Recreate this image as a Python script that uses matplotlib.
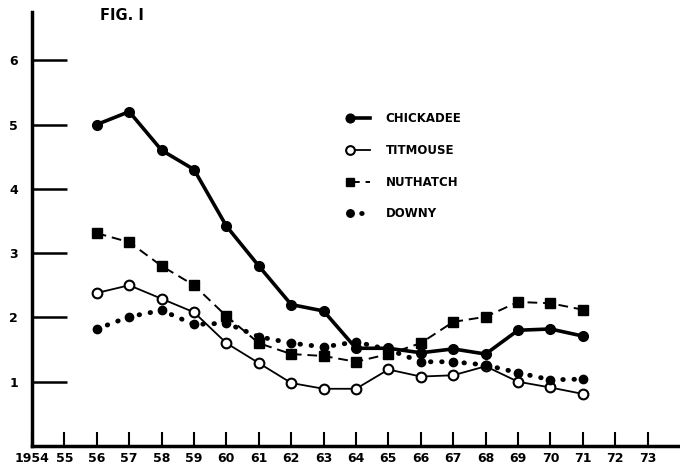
import matplotlib
matplotlib.use("Agg")
import matplotlib.pyplot as plt
from matplotlib.legend_handler import HandlerLine2D

years = list(range(1956, 1972))
chickadee = [5.0, 5.2, 4.6, 4.3, 3.42, 2.8, 2.2, 2.1, 1.52, 1.52, 1.45, 1.51, 1.43, 1.80, 1.82, 1.71]
titmouse = [2.38, 2.50, 2.29, 2.08, 1.60, 1.29, 0.98, 0.89, 0.89, 1.19, 1.08, 1.10, 1.24, 1.00, 0.91, 0.81]
nuthatch = [3.31, 3.17, 2.80, 2.50, 2.02, 1.60, 1.43, 1.40, 1.31, 1.43, 1.60, 1.93, 2.01, 2.24, 2.22, 2.12]
downy = [1.82, 2.01, 2.11, 1.89, 1.91, 1.70, 1.60, 1.54, 1.62, 1.50, 1.31, 1.31, 1.26, 1.14, 1.03, 1.04]

xticks = list(range(1954, 1974))
xlabels = ["1954"] + [str(y % 100) for y in xticks[1:]]
yticks = [1, 2, 3, 4, 5, 6]

plt.rcParams['font.family'] = ['DejaVu Sans']
fig = plt.figure(figsize=(6.8, 4.7), dpi=100)
ax = fig.add_axes([32/680, 24/470, 648/680, 434/470])

ax.plot(years, chickadee, color='black', lw=2.6, marker='o', ms=7, label='CHICKADEE')
ax.plot(years, titmouse, color='black', lw=1.3, marker='o', ms=7, mfc='white', mew=1.5, label='TITMOUSE')
ax.plot(years, nuthatch, color='black', lw=1.4, ls=(0, (5, 3)), marker='s', ms=7, label='NUTHATCH')
ax.plot(years, downy, color='black', lw=3.5, ls=(0, (0.1, 2.2)), dash_capstyle='round',
        marker='o', ms=6, label='DOWNY')

ax.set_xlim(1954, 1974)
ax.set_ylim(0, 6.75)
for s in ['top', 'right']:
    ax.spines[s].set_visible(False)
for s in ['left', 'bottom']:
    ax.spines[s].set_linewidth(2.5)

ax.set_xticks(xticks)
ax.set_xticklabels(xlabels, fontsize=9, fontweight='bold')
ax.tick_params(axis='x', direction='in', length=10, width=1.5, pad=4)
ax.set_yticks(yticks)
ax.set_yticklabels([str(v) for v in yticks], fontsize=9, fontweight='bold')
ax.tick_params(axis='y', direction='in', length=25, width=1.8, pad=10)

fig.text(100/680, 1 - 16/470, "FIG. I", fontsize=10.5, fontweight='bold', va='center')


# marker only at the left end of each legend line
def marker_left(h, o):
    h.update_from(o)
    h.set_markevery([0])


left_marker = HandlerLine2D(numpoints=2, update_func=marker_left)
ax.legend(loc='upper left', bbox_to_anchor=(0.469, 0.793), frameon=False, handlelength=2.3,
          labelspacing=1.58, prop={'size': 8.5, 'weight': 'bold'}, markerscale=0.9,
          handletextpad=1.0, handler_map={plt.Line2D: left_marker})

fig.savefig("out.png", dpi=100)
